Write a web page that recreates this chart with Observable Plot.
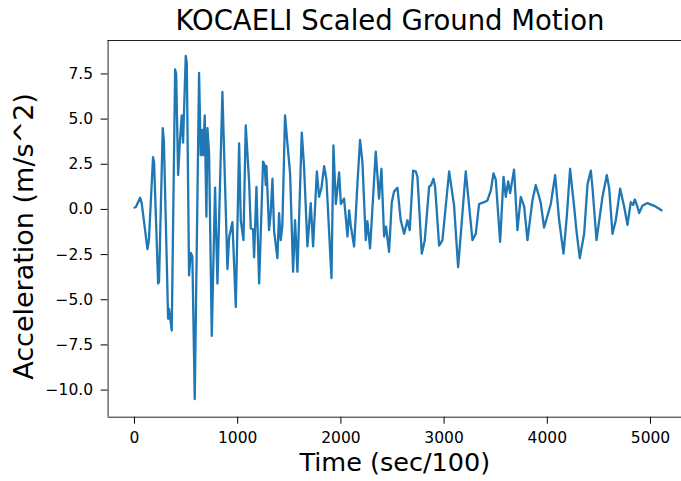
<!DOCTYPE html>
<html>
<head>
<meta charset="utf-8">
<script src="https://cdn.jsdelivr.net/npm/d3@7"></script>
<script src="https://cdn.jsdelivr.net/npm/@observablehq/plot@0.6"></script>
<style>
  html, body { margin: 0; padding: 0; background: #fff; overflow: hidden; width: 681px; height: 481px; }
  #title { position: absolute; left: 0; width: 780px; top: 6px; text-align: center;
           font-family: "DejaVu Sans", sans-serif; font-size: 27.5px; line-height: 28px; color: #000; }
  #chart { position: absolute; left: 0; top: 34px; }
</style>
</head>
<body>
<div id="title">KOCAELI Scaled Ground Motion</div>
<div id="chart"></div>
<script>
const time = [0,15,55,70,126,140,180,190,229,238,274,285,326,335,361,394,404,423,439,458,471,497,507,529,545,561,584,626,642,658,665,681,697,707,723,749,781,804,852,901,917,949,982,1014,1030,1056,1078,1111,1127,1149,1159,1182,1208,1246,1262,1272,1279,1304,1320,1337,1353,1385,1401,1417,1433,1459,1482,1508,1537,1556,1579,1621,1643,1676,1708,1731,1767,1789,1812,1838,1860,1909,1928,1951,1983,2000,2031,2064,2080,2096,2128,2161,2186,2209,2241,2257,2283,2338,2370,2393,2419,2438,2467,2493,2516,2548,2580,2613,2645,2667,2700,2726,2742,2784,2813,2855,2874,2897,2913,2952,2984,3049,3097,3136,3162,3210,3275,3307,3339,3388,3420,3453,3479,3501,3543,3576,3598,3621,3640,3678,3711,3743,3776,3808,3856,3888,3921,3937,3969,4002,4034,4076,4115,4157,4189,4221,4260,4283,4315,4357,4390,4422,4438,4477,4535,4577,4600,4632,4664,4706,4745,4777,4809,4832,4848,4874,4890,4922,4971,5036,5107];
const accel = [0.1,0.15,0.65,0.35,-2.2,-1.7,2.9,2.6,-4.1,-4.0,4.5,3.8,-6.05,-5.5,-6.7,7.75,7.5,1.9,3.7,5.2,3.7,8.5,8.1,-3.65,-2.4,-2.6,-10.5,7.55,3.0,4.4,3.0,5.2,-0.4,4.5,3.1,-7.0,1.2,-4.1,6.5,-3.3,-1.55,-0.7,-5.4,3.65,-0.6,-1.7,4.65,1.5,-1.05,-1.1,-2.65,1.25,-4.1,2.65,2.45,1.35,2.4,-1.15,-0.2,1.7,-1.2,-2.7,-0.2,-1.7,-0.9,5.2,3.65,2.0,-3.45,-0.6,-3.45,4.25,2.4,-2.05,0.35,-2.05,2.1,0.7,1.2,2.4,1.65,-3.8,3.55,0.3,2.05,0.3,0.6,-1.5,-0.05,-0.9,-2.05,1.5,3.85,2.6,-1.7,-0.65,-2.15,3.2,0.6,2.25,-1.5,-0.95,-2.35,0.4,1.0,1.2,-0.6,-1.35,-0.6,-1.15,2.15,2.1,1.8,-2.45,-1.7,1.25,1.35,1.7,1.25,-2.0,-1.7,2.1,0.2,-3.2,-1.35,2.1,-1.7,-1.35,0.3,0.4,0.5,1.05,2.0,1.65,-1.8,1.8,0.7,1.55,0.9,2.2,-1.15,0.7,0.15,-1.7,0.5,1.35,0.7,0.35,-1.0,-0.35,0.3,1.9,-0.6,-2.45,-0.4,2.25,0.15,-1.2,-2.7,-1.35,1.4,2.15,1.2,-1.7,0.7,1.9,1.15,-1.35,-0.6,1.15,0.15,-0.85,0.4,0.25,0.55,0.15,-0.2,0.2,0.35,0.2,-0.05];
const xTicks = [0, 1000, 2000, 3000, 4000, 5000];
const yTicks = [-10, -7.5, -5, -2.5, 0, 2.5, 5, 7.5];
const xDomain = [-255.5, 5300.5];
const yDomain = [-11.5, 9.35];
const xLabel = ["Time (sec/100)"];
const yLabel = ["Acceleration (m/s^2)"];

const data = time.map((t, i) => ({t, a: accel[i]}));

const chart = Plot.plot({
  width: 681,
  height: 447,
  marginTop: 6,
  marginBottom: 64.3,
  marginLeft: 107.6,
  marginRight: 0,
  style: {fontFamily: "'DejaVu Sans', sans-serif", fontSize: "15.5px", color: "#000", background: "#fff", overflow: "hidden"},
  x: {domain: xDomain, ticks: xTicks, tickFormat: "d", tickSize: 7, tickPadding: 8, label: null},
  y: {domain: yDomain, ticks: yTicks, tickFormat: ".1f", tickSize: 7, tickPadding: 8, label: null},
  marks: [
    Plot.ruleX(xDomain.slice(0, 1), {stroke: "#222", strokeWidth: 1}),
    Plot.ruleY(yDomain, {stroke: "#222", strokeWidth: 1}),
    Plot.line(data, {x: "t", y: "a", stroke: "#1f77b4", strokeWidth: 2.3, strokeLinejoin: "round"}),
    Plot.text(xLabel, {frameAnchor: "bottom", dy: 45.3, lineAnchor: "middle", textAnchor: "middle", fontSize: 25.5, fill: "#000", text: d => d}),
    Plot.text(yLabel, {frameAnchor: "left", dx: -83.5, dy: 7.6, rotate: -90, lineAnchor: "middle", textAnchor: "middle", fontSize: 27, fill: "#000", text: d => d})
  ]
});
document.getElementById("chart").appendChild(chart);
</script>
</body>
</html>
